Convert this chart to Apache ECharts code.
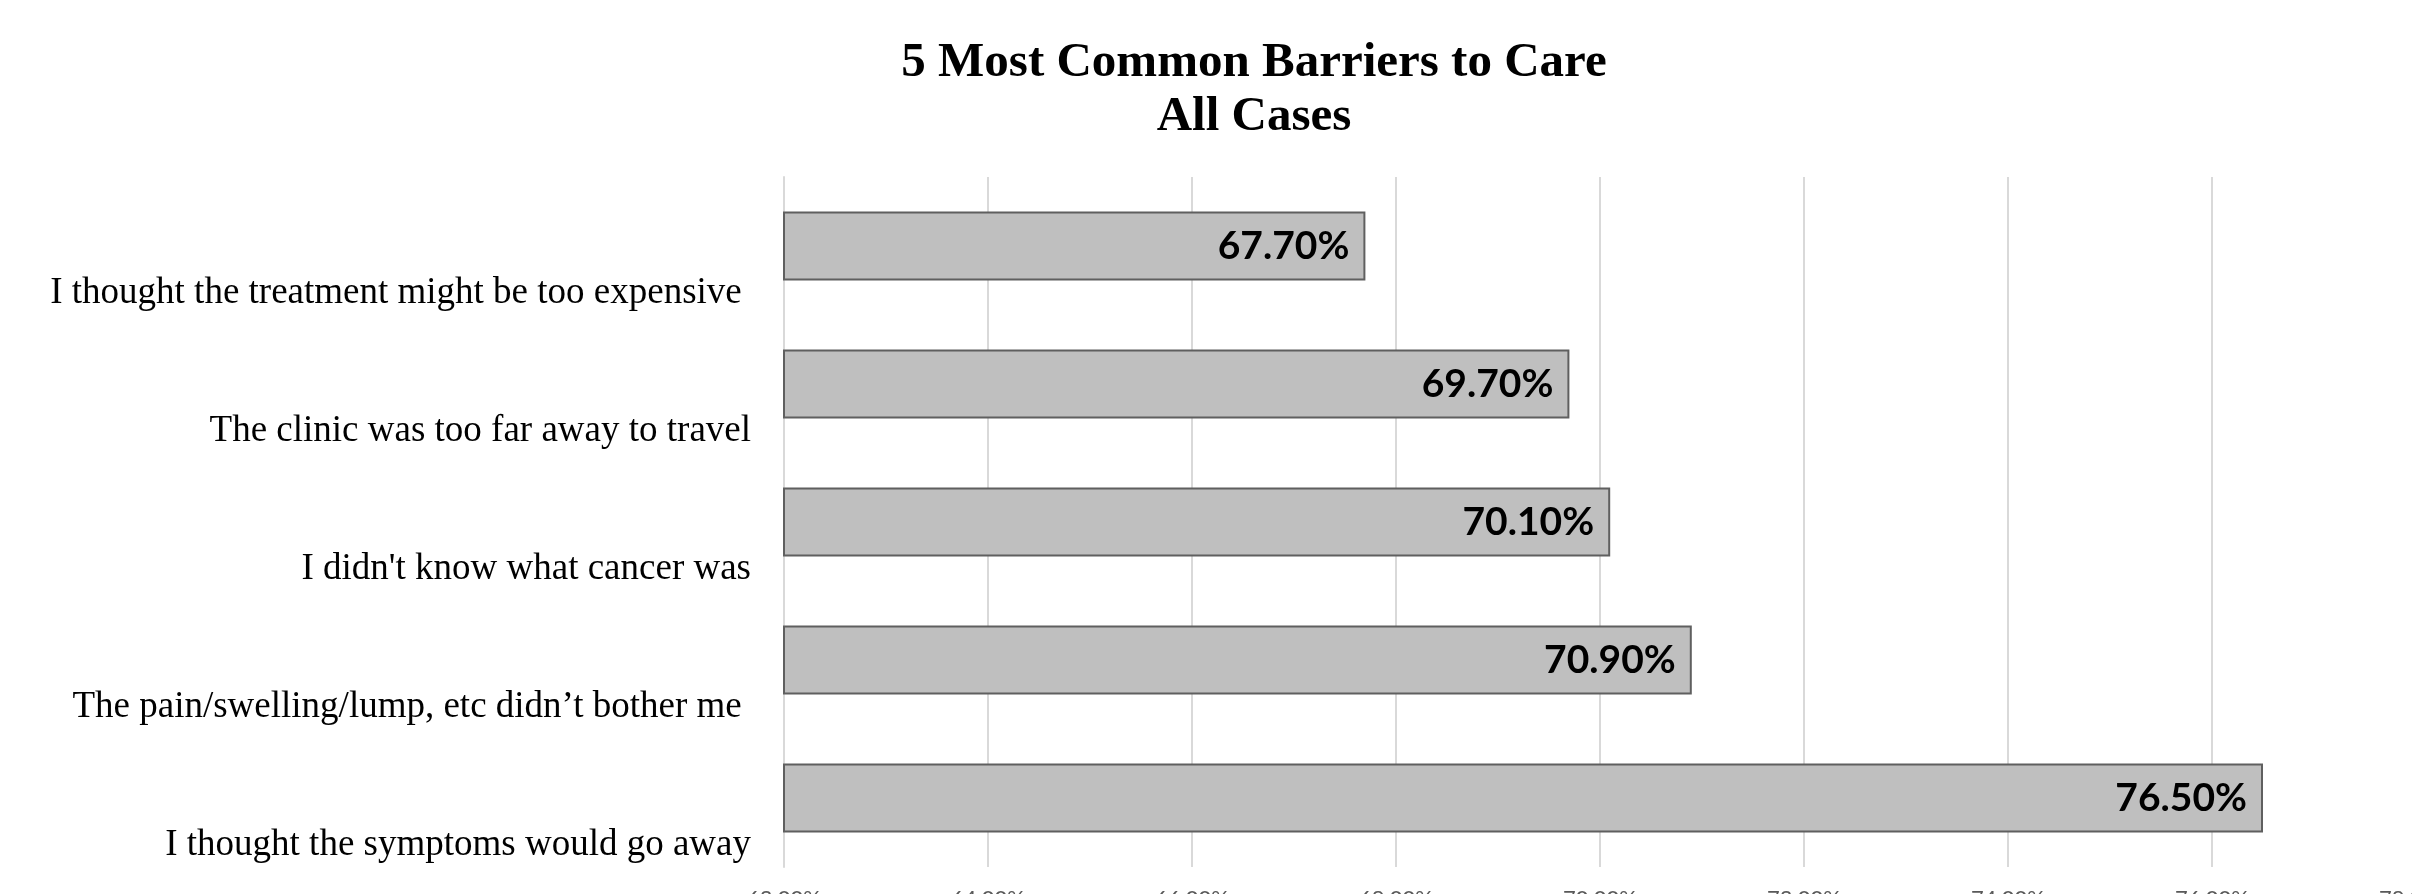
<!DOCTYPE html>
<html>
<head>
<meta charset="utf-8">
<script src="https://cdn.jsdelivr.net/npm/echarts@6/dist/echarts.min.js"></script>
<style>
html,body{margin:0;padding:0;background:#fff;}
#chart{width:2412px;height:894px;}
</style>
</head>
<body>
<div id="chart"></div>
<script>
const titleLines = ['5 Most Common Barriers to Care', 'All Cases'];
const categories = [
  'I thought the treatment might be too expensive ',
  'The clinic was too far away to travel',
  "I didn't know what cancer was",
  'The pain/swelling/lump, etc didn\u2019t bother me ',
  'I thought the symptoms would go away'
];
const values = [67.7, 69.7, 70.1, 70.9, 76.5];
const axisMin = 62;
const axisMax = 78;
const axisStep = 2;

const chart = echarts.init(document.getElementById('chart'), null, {renderer: 'canvas'});
chart.setOption({
  animation: false,
  backgroundColor: '#ffffff',
  title: {
    text: titleLines.join('\n'),
    left: 1254,
    top: 36,
    textAlign: 'center',
    padding: 0,
    textStyle: {
      fontFamily: 'Liberation Serif',
      fontWeight: 'bold',
      fontSize: 49,
      lineHeight: 54,
      color: '#000000'
    }
  },
  grid: {left: 784, right: -4, top: 177, bottom: 27, containLabel: false, outerBoundsMode: 'none'},
  xAxis: {
    type: 'value',
    min: axisMin,
    max: axisMax,
    interval: axisStep,
    axisLine: {show: false},
    axisTick: {show: false},
    splitLine: {show: true, lineStyle: {color: '#d9d9d9', width: 2}},
    axisLabel: {
      show: true,
      margin: 21,
      verticalAlign: 'top',
      color: '#595959',
      fontFamily: 'Lato',
      fontSize: 22,
      showMaxLabel: true,
      showMinLabel: true,
      hideOverlap: false,
      formatter: v => v.toFixed(2) + '%'
    }
  },
  yAxis: {
    type: 'category',
    data: categories,
    inverse: true,
    axisLine: {show: true, lineStyle: {color: '#d9d9d9', width: 2}},
    axisTick: {show: false},
    splitLine: {show: false},
    axisLabel: {
      interval: 0,
      showMinLabel: true,
      showMaxLabel: true,
      hideOverlap: false,
      margin: 33,
      color: '#000000',
      fontFamily: 'Liberation Serif',
      fontSize: 37,
      lineHeight: 94,
      align: 'right',
      verticalAlign: 'middle',
      formatter: v => '\n' + v
    }
  },
  series: [{
    type: 'bar',
    data: values,
    barCategoryGap: '50%',
    itemStyle: {color: '#bfbfbf', borderColor: '#5f5f5f', borderWidth: 2},
    label: {
      show: true,
      position: 'insideRight',
      distance: 16,
      color: '#000000',
      fontFamily: 'Lato',
      fontWeight: 'bold',
      fontSize: 39,
      formatter: p => p.value.toFixed(2) + '%'
    }
  }]
});
</script>
</body>
</html>
